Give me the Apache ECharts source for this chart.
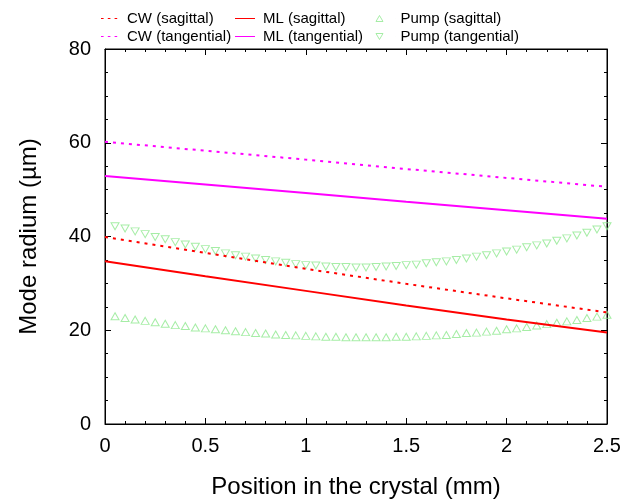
<!DOCTYPE html>
<html><head><meta charset="utf-8">
<script src="https://cdn.jsdelivr.net/npm/echarts@6/dist/echarts.min.js"></script>
<style>html,body{margin:0;padding:0;background:#fff}#c{width:629px;height:500px}</style>
</head><body><div id="c"></div>
<script>
// ---- data ----
var lineX = [0, 0.5, 1.0, 1.5, 2.0, 2.5];
var cwSagittal   = [39.9, 36.5, 33.1, 29.9, 26.8, 23.8];
var cwTangential = [60.2, 58.3, 56.4, 54.4, 52.5, 50.6];
var mlSagittal   = [34.7, 31.5, 28.4, 25.3, 22.3, 19.5];
var mlTangential = [52.9, 51.1, 49.3, 47.4, 45.6, 43.8];

var pumpX = [0.05,0.10,0.15,0.20,0.25,0.30,0.35,0.40,0.45,0.50,
             0.55,0.60,0.65,0.70,0.75,0.80,0.85,0.90,0.95,1.00,
             1.05,1.10,1.15,1.20,1.25,1.30,1.35,1.40,1.45,1.50,
             1.55,1.60,1.65,1.70,1.75,1.80,1.85,1.90,1.95,2.00,
             2.05,2.10,2.15,2.20,2.25,2.30,2.35,2.40,2.45,2.50];
var pumpSagittal = [23.0,22.6,22.3,22.0,21.7,21.4,21.1,20.9,20.6,20.4,
                    20.2,20.0,19.8,19.6,19.4,19.3,19.1,19.0,18.9,18.8,
                    18.7,18.6,18.6,18.5,18.5,18.5,18.5,18.5,18.6,18.6,
                    18.7,18.8,18.9,19.0,19.2,19.4,19.5,19.7,19.9,20.2,
                    20.4,20.7,21.0,21.3,21.6,21.9,22.2,22.6,22.9,23.3];
var pumpTangential = [42.2,41.7,41.1,40.5,39.9,39.4,38.8,38.3,37.8,37.3,
                      36.9,36.4,36.0,35.7,35.3,35.0,34.7,34.4,34.1,33.9,
                      33.8,33.6,33.5,33.5,33.4,33.4,33.5,33.6,33.7,33.9,
                      34.0,34.3,34.5,34.7,35.0,35.3,35.7,36.0,36.4,36.8,
                      37.2,37.7,38.1,38.5,39.1,39.6,40.2,40.8,41.5,42.2];

function pairs(xs, ys){ return xs.map(function(x,i){ return [x, ys[i]]; }); }

var RED = '#ff0000', MAG = '#ff00ff', GREEN = '#90e890';
var FONT = 'Liberation Sans';

// legend icon shapes (with invisible bounding points so text sits at the right place)
var ICON_DOTS = 'path://M0,0.5L0.01,0.5M22,0.5L22.01,0.5M1,0h2.6v1h-2.6zM7.8,0h2.6v1h-2.6zM14.6,0h2.6v1h-2.6z';
var ICON_LINE = 'path://M0,0h20v1h-20zM23,0.5L23.01,0.5';
var ICON_UP   = 'path://M0,3L0.01,3M22,3L22.01,3M2.5,6L6,0L9.5,6Z';
var ICON_DOWN = 'path://M0,3L0.01,3M22,3L22.01,3M2.5,0L6,6L9.5,0Z';

var chart = echarts.init(document.getElementById('c'), null, {renderer:'canvas'});

function lineSeries(name, xs, ys, color, dotted){
  return {name:name, type:'line', data:pairs(xs, ys), symbol:'none', silent:true, color:color,
          lineStyle:{color:color, width:2, type: dotted ? [3,5] : 'solid'},
          itemStyle:{color:color}, z: 3};
}
function pumpSeries(name, ys, rot){
  return {name:name, type:'scatter', data:pairs(pumpX, ys), symbol:'triangle',
          symbolSize:[8,7], symbolRotate:rot, silent:true,
          itemStyle:{color:'rgba(255,255,255,0)', borderColor:GREEN, borderWidth:1}, z:2};
}

var txt = {fontFamily:FONT, fontSize:15, color:'#000'};

function tickAxis(extra){
  var base = {
    type:'value',
    axisLine:{show:true, onZero:false, lineStyle:{color:'#000', width:1}},
    axisTick:{show:true, inside:true, length:6, lineStyle:{color:'#000', width:1}},
    splitLine:{show:false}
  };
  for (var k in extra) base[k] = extra[k];
  return base;
}

chart.setOption({
  animation:false,
  backgroundColor:'#fff',
  grid:{left:105, right:22, top:49, bottom:76, show:true, borderColor:'#000', borderWidth:1,
        containLabel:false, outerBoundsMode:'none'},
  legend:[
    {orient:'vertical', left:100, top:11, padding:0, itemGap:3, itemWidth:22, itemHeight:2, textStyle:txt,
     data:[{name:'CW (sagittal)', icon:ICON_DOTS},
           {name:'CW (tangential)', icon:ICON_DOTS}]},
    {orient:'vertical', left:235, top:11, padding:0, itemGap:3, itemWidth:23, itemHeight:2, textStyle:txt,
     data:[{name:'ML (sagittal)', icon:ICON_LINE},
           {name:'ML (tangential)', icon:ICON_LINE}]},
    {orient:'vertical', left:373, top:11, padding:0, itemGap:3, itemWidth:22, itemHeight:6, textStyle:txt,
     data:[{name:'Pump (sagittal)', icon:ICON_UP, itemStyle:{color:'rgba(255,255,255,0)', borderColor:GREEN, borderWidth:1}},
           {name:'Pump (tangential)', icon:ICON_DOWN, itemStyle:{color:'rgba(255,255,255,0)', borderColor:GREEN, borderWidth:1}}]}
  ],
  xAxis:[
    tickAxis({min:0, max:2.5, interval:0.5, position:'bottom',
      minorTick:{show:true, splitNumber:5, length:3, lineStyle:{color:'#000'}},
      axisLabel:{fontFamily:FONT, fontSize:20, color:'#000', margin:12},
      name:'Position in the crystal (mm)', nameLocation:'middle', nameGap:51,
      nameTextStyle:{fontFamily:FONT, fontSize:24, color:'#000'}}),
    tickAxis({min:0, max:2.5, interval:0.5, position:'top',
      minorTick:{show:true, splitNumber:5, length:3, lineStyle:{color:'#000'}},
      axisLabel:{show:false}})
  ],
  yAxis:[
    tickAxis({min:0, max:80, interval:20, position:'left',
      minorTick:{show:true, splitNumber:4, length:3, lineStyle:{color:'#000'}},
      axisLabel:{fontFamily:FONT, fontSize:20, color:'#000', margin:14},
      name:'Mode radium (\u00b5m)', nameLocation:'middle', nameGap:64,
      nameTextStyle:{fontFamily:FONT, fontSize:24, color:'#000'}}),
    tickAxis({min:0, max:80, interval:20, position:'right',
      minorTick:{show:true, splitNumber:4, length:3, lineStyle:{color:'#000'}},
      axisLabel:{show:false}})
  ],
  series:[
    lineSeries('CW (sagittal)', lineX, cwSagittal, RED, true),
    lineSeries('CW (tangential)', lineX, cwTangential, MAG, true),
    lineSeries('ML (sagittal)', lineX, mlSagittal, RED, false),
    lineSeries('ML (tangential)', lineX, mlTangential, MAG, false),
    pumpSeries('Pump (sagittal)', pumpSagittal, 0),
    pumpSeries('Pump (tangential)', pumpTangential, 180)
  ]
});
</script></body></html>
